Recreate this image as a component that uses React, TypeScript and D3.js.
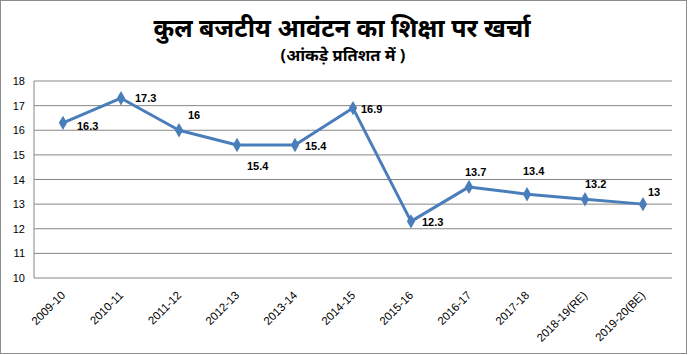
import React from "react";
import * as d3 from "d3";

const categories = [
  "2009-10", "2010-11", "2011-12", "2012-13", "2013-14", "2014-15",
  "2015-16", "2016-17", "2017-18", "2018-19(RE)", "2019-20(BE)",
];
const values = [16.3, 17.3, 16, 15.4, 15.4, 16.9, 12.3, 13.7, 13.4, 13.2, 13];
const valueLabels = ["16.3", "17.3", "16", "15.4", "15.4", "16.9", "12.3", "13.7", "13.4", "13.2", "13"];
const yTicks = [10, 11, 12, 13, 14, 15, 16, 17, 18];
const title = "कुल बजटीय आवंटन का शिक्षा पर खर्चा";
const subtitle = "(आंकड़े प्रतिशत में )";

// label placement (dx, dy from the point, text-anchor start), layout only
const labelOffsets: [number, number][] = [
  [14, 7], [14, 4], [9, -11], [10, 25], [10, 5], [8, 5],
  [11, 5], [-4, -11], [-4, -19], [0, -11], [5, -8],
];

const W = 688;
const H = 355;
const M = { left: 34, right: 672, top: 81, bottom: 278 };

export default function App() {
  const x = d3
    .scaleBand<string>()
    .domain(categories)
    .range([M.left, M.right]);
  const y = d3.scaleLinear().domain([10, 18]).range([M.bottom, M.top]);
  const cx = (c: string) => (x(c) ?? 0) + x.bandwidth() / 2;

  const line = d3
    .line<number>()
    .x((_, i) => cx(categories[i]))
    .y((d) => y(d));

  const diamond = d3.symbol().type(d3.symbolDiamond).size(60)() as string;

  return (
    <svg
      width={W}
      height={H}
      style={{ position: "absolute", left: 0, top: 0, background: "#fff" }}
    >
      <rect x={0.5} y={0.5} width={W - 2} height={H - 2} fill="#fff" stroke="#8c8c8c" strokeWidth={1} />
      <text
        x={342}
        y={37}
        textAnchor="middle"
        fontFamily="'Noto Sans', sans-serif"
        fontWeight="bold"
        fontSize={25}
        fill="#000"
      >
        {title}
      </text>
      <text
        x={343}
        y={61}
        textAnchor="middle"
        fontFamily="'Noto Sans', sans-serif"
        fontWeight="bold"
        fontSize={16.5}
        fill="#000"
      >
        {subtitle}
      </text>

      {yTicks.map((t) => (
        <g key={t}>
          <line x1={M.left} x2={M.right} y1={y(t)} y2={y(t)} stroke="#868686" strokeWidth={1} />
          <text
            x={25}
            y={y(t) + 4}
            textAnchor="end"
            fontFamily="'Liberation Sans', Arial, sans-serif"
            fontSize={11}
            fill="#000"
          >
            {t}
          </text>
        </g>
      ))}
      <line x1={M.left} x2={M.left} y1={M.top} y2={M.bottom} stroke="#868686" strokeWidth={1} />

      {categories.map((c) => (
        <text
          key={c}
          transform={`translate(${cx(c) + 3},${M.bottom + 18}) rotate(-45)`}
          textAnchor="end"
          fontFamily="'Liberation Sans', Arial, sans-serif"
          fontSize={11.5}
          fill="#000"
        >
          {c}
        </text>
      ))}

      <path d={line(values) ?? ""} fill="none" stroke="#4a7ebb" strokeWidth={3} strokeLinejoin="round" />
      {values.map((v, i) => (
        <path
          key={i}
          d={diamond}
          transform={`translate(${cx(categories[i])},${y(v)})`}
          fill="#4a7ebb"
        />
      ))}
      {values.map((v, i) => (
        <text
          key={"l" + i}
          x={cx(categories[i]) + labelOffsets[i][0]}
          y={y(v) + labelOffsets[i][1]}
          fontFamily="'Liberation Sans', Arial, sans-serif"
          fontWeight="bold"
          fontSize={11}
          fill="#000"
        >
          {valueLabels[i]}
        </text>
      ))}
    </svg>
  );
}
